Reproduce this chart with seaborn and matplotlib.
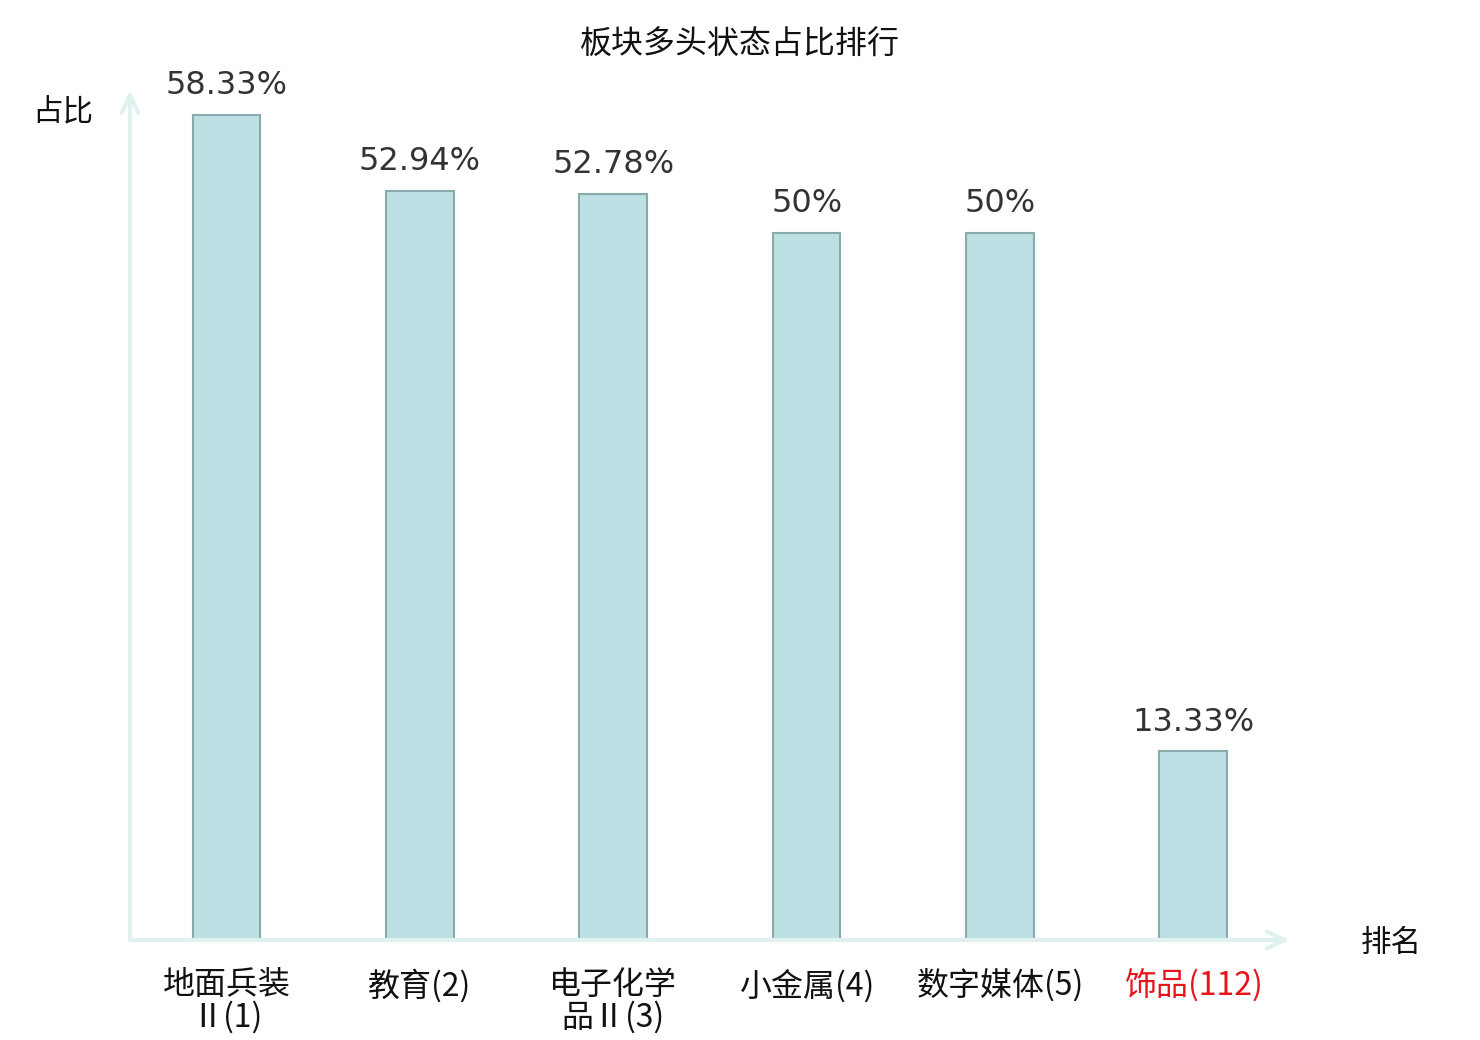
import matplotlib
matplotlib.use('Agg')
import matplotlib.pyplot as plt
import seaborn as sns
import pandas as pd

# chart data
sectors = ['地面兵装\nⅡ(1)', '教育(2)', '电子化学\n品Ⅱ(3)', '小金属(4)', '数字媒体(5)', '饰品(112)']
ratios = [58.33, 52.94, 52.78, 50, 50, 13.33]

df = pd.DataFrame({'sector': sectors, 'ratio': ratios})

sns.set_style('white')
plt.rcParams['font.family'] = ['Noto Sans CJK SC', 'DejaVu Sans']

fig = plt.figure(figsize=(14.8, 10.4), dpi=100)
ax = fig.add_axes([0.0878, 1 - 940 / 1040, 0.7838, (940 - 90) / 1040])

sns.barplot(data=df, x='sector', y='ratio', color='#bce0e3', edgecolor='#8aabab',
            linewidth=1.5, width=0.35, saturation=1, ax=ax)

ax.set_xlim(-0.5, 5.5)
ax.set_ylim(0, 60.1)

labels = [f'{v:g}%' for v in ratios]
ax.bar_label(ax.containers[0], labels=labels, padding=10, fontsize=23,
             color='#333333', family='DejaVu Sans')

# axes drawn as arrows
for s in ax.spines.values():
    s.set_visible(False)
arrow = dict(arrowstyle='->,head_length=1.3,head_width=0.6', color='#dff2f0', lw=3,
             shrinkA=0, shrinkB=0)
ax.annotate('', xy=(0, 1.0), xytext=(0, 0), xycoords='axes fraction', arrowprops=arrow,
            annotation_clip=False)
ax.annotate('', xy=(1.0, 0), xytext=(0, 0), xycoords='axes fraction', arrowprops=arrow,
            annotation_clip=False)

ax.set_yticks([])
ax.tick_params(axis='x', length=0, pad=21)
ax.set_xlabel('')
ax.set_ylabel('')
for i, t in enumerate(ax.get_xticklabels()):
    t.set_fontsize(23)
    t.set_linespacing(1.0)
    t.set_color('#e8141c' if i == len(sectors) - 1 else '#111111')

fig.text(63 / 1480, 1 - 112 / 1040, '占比', fontsize=22, ha='center', va='center', color='#111111')
fig.text(1391 / 1480, 1 - 943 / 1040, '排名', fontsize=22, ha='center', va='center', color='#111111')
fig.text(0.5, 1 - 45 / 1040, '板块多头状态占比排行', fontsize=23, ha='center', va='center',
         color='#111111')

fig.savefig('out.png', dpi=100)
